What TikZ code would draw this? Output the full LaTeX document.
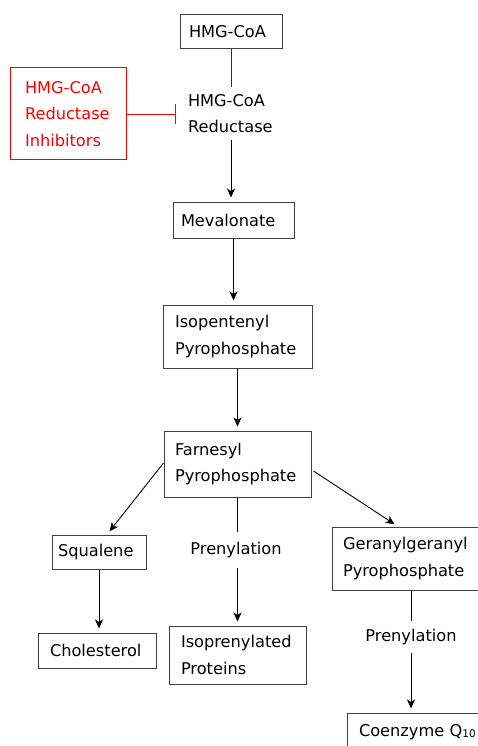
\documentclass[tikz,border=0pt]{standalone}
\usepackage{fontspec}
\setmainfont{DejaVu Sans}
\usetikzlibrary{arrows.meta,calc}
\begin{document}
\begin{tikzpicture}[x=1pt,y=-1pt,
  font=\fontsize{16.2}{26.5}\selectfont,
  bx/.style={draw=black!75, line width=1pt, align=left, inner ysep=0pt, anchor=center},
  lbl/.style={align=left, inner ysep=0pt, anchor=center},
  arr/.style={-{Stealth[length=9pt,width=8pt,inset=2.5pt]}, line width=0.9pt, shorten >=4pt},
  ln/.style={line width=0.9pt}]
\useasboundingbox (0,0) rectangle (478,746);
\clip (0,0) rectangle (478,746);
\fill[white] (0,0) rectangle (478,746);

\node[bx, text width=84pt, inner xsep=9pt, minimum height=34pt] (hmg) at (231,32) {HMG-CoA};
\node[bx, draw=red, text=red, text width=86pt, inner xsep=15pt, minimum height=92pt] (red) at (68,114) {\raisebox{-3pt}{\parbox{86pt}{HMG-CoA\\Reductase\\Inhibitors}}};
\node[lbl, text width=86pt, inner xsep=12pt, minimum height=53pt] (hmgr) at (231,113.5) {HMG-CoA\\Reductase};
\node[bx, text width=105pt, inner xsep=8pt, minimum height=36pt] (mev) at (233.5,220) {Mevalonate};
\node[bx, text width=125pt, inner xsep=12pt, minimum height=63pt] (iso) at (237.5,336.5) {Isopentenyl\\Pyrophosphate};
\node[bx, text width=125pt, inner xsep=11pt, minimum height=66pt] (far) at (237.5,464) {Farnesyl\\Pyrophosphate};
\node[bx, text width=82pt, inner xsep=6pt, minimum height=34pt] (sq) at (99,552) {Squalene};
\node[bx, text width=94pt, inner xsep=12pt, minimum height=35pt] (chol) at (97,650.5) {Cholesterol};
\node[bx, text width=113pt, inner xsep=12pt, minimum height=58pt] (prot) at (237.5,655) {Isoprenylated\\Proteins};
\node[bx, text width=136pt, inner xsep=11pt, minimum height=63pt] (ger) at (411,558.5) {Geranylgeranyl\\Pyrophosphate};
\node[bx, text width=126pt, inner xsep=12pt, minimum height=38pt] (coq) at (422,732) {Coenzyme Q{\fontsize{10.5}{12}\selectfont\raisebox{-1pt}{10}}};
\node[lbl, inner xsep=0pt, minimum height=36pt] (pre1) at (236,550) {Prenylation};
\node[lbl, inner xsep=0pt, minimum height=31pt] (pre2) at (411,637) {Prenylation};

\draw[ln, draw=black!80] (hmg.south) -- (hmg.south |- hmgr.north);
\draw[arr] (hmgr.south) -- (hmgr.south |- mev.north);
\draw[red, ln, -{Bar[width=20pt]}] (red.east) -- (red.east -| hmgr.west);
\draw[arr] (mev.south) -- (mev.south |- iso.north);
\draw[arr] (iso.south) -- (far.north);
\draw[arr] ($(far.west)+(0,-1)$) -- ($(sq.north)+(8,0)$);
\draw[arr] ($(far.east)+(2,7)$) -- ($(ger.north)+(-13,0)$);
\draw[arr] (sq.south) -- (sq.south |- chol.north);
\draw[ln] (far.south) -- (far.south |- pre1.north);
\draw[arr] (far.south |- pre1.south) -- (far.south |- prot.north);
\draw[ln] (ger.south) -- (ger.south |- pre2.north);
\draw[arr] (ger.south |- pre2.south) -- (ger.south |- coq.north);
\end{tikzpicture}
\end{document}
